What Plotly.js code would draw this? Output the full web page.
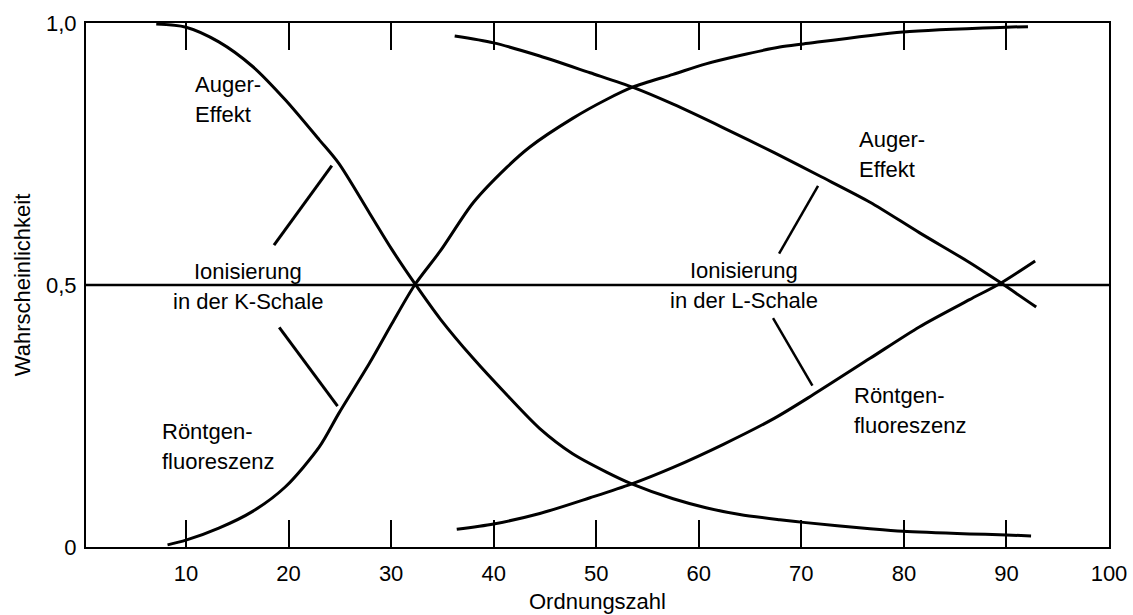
<!DOCTYPE html>
<html>
<head>
<meta charset="utf-8">
<script src="https://cdn.plot.ly/plotly-3.0.1.min.js"></script>
<style>
  html, body { margin: 0; padding: 0; background: #ffffff; }
  #chart { width: 1133px; height: 615px; }
</style>
</head>
<body>
<div id="chart"></div>
<script>
// Ordnungszahl (Z) und Wahrscheinlichkeit für Auger-Effekt bzw. Röntgenfluoreszenz

// K-Schale
const kAugerZ = [7.1, 10, 13.2, 16.5, 19.7, 23.0, 24.9, 27.9, 30.1, 32.3, 34.8, 38.0, 41.3, 44.5, 47.7, 51.0, 53.4, 57.5, 60.7, 64.0, 67.9, 70.2, 76.7, 79.9, 86.4, 90, 92.4];
const kAugerP = [0.998, 0.992, 0.964, 0.917, 0.853, 0.777, 0.732, 0.637, 0.567, 0.503, 0.435, 0.360, 0.290, 0.226, 0.178, 0.143, 0.121, 0.092, 0.075, 0.062, 0.052, 0.047, 0.035, 0.030, 0.025, 0.023, 0.021];

const kFluorZ = [8.2, 10, 13.2, 16.5, 19.7, 23.0, 24.9, 27.9, 30.1, 32.3, 34.8, 38.0, 41.3, 43.5, 47.7, 51.0, 53.6, 57.5, 60.7, 64.0, 67.9, 70.2, 79.9, 90, 92.1];
const kFluorP = [0.004, 0.013, 0.036, 0.068, 0.115, 0.191, 0.255, 0.351, 0.427, 0.5, 0.565, 0.657, 0.725, 0.763, 0.818, 0.854, 0.878, 0.902, 0.922, 0.938, 0.954, 0.960, 0.983, 0.992, 0.993];

// L-Schale
const lAugerZ = [36.2, 40, 44.5, 49.4, 53.6, 57.5, 62.4, 67.4, 71.8, 76.7, 81.5, 86.4, 89.3, 92.9];
const lAugerP = [0.975, 0.962, 0.937, 0.905, 0.877, 0.845, 0.800, 0.752, 0.708, 0.658, 0.600, 0.543, 0.506, 0.458];

const lFluorZ = [36.4, 40, 44.5, 49.4, 53.4, 57.5, 62.4, 67.4, 71.1, 76.7, 81.5, 86.4, 89.3, 92.8];
const lFluorP = [0.034, 0.044, 0.064, 0.094, 0.120, 0.152, 0.196, 0.246, 0.290, 0.360, 0.420, 0.472, 0.502, 0.546];

// Achsenbeschriftung
const xTickVals = [10, 20, 30, 40, 50, 60, 70, 80, 90, 100];
const xTickText = ['10', '20', '30', '40', '50', '60', '70', '80', '90', '100'];
const yTickVals = [0, 0.5, 1];
const yTickText = ['0', '0,5', '1,0'];

const FONT = '"Liberation Sans", Arial, sans-serif';
const FS = 22;

function curve(x, y) {
  return {
    x: x, y: y, type: 'scatter', mode: 'lines',
    line: { color: '#000000', width: 3, shape: 'spline', smoothing: 0.8 },
    hoverinfo: 'skip', showlegend: false
  };
}

const traces = [
  curve(kAugerZ, kAugerP),
  curve(kFluorZ, kFluorP),
  curve(lAugerZ, lAugerP),
  curve(lFluorZ, lFluorP)
];

// Hinweisstriche von der Beschriftung zu den Kurven
function leader(x0, y0, x1, y1, w) {
  return { type: 'line', xref: 'x', yref: 'y', x0: x0, y0: y0, x1: x1, y1: y1,
           line: { color: '#000000', width: w } };
}

const shapes = [
  { type: 'line', xref: 'paper', yref: 'y', x0: 0, x1: 1, y0: 0.5, y1: 0.5,
    line: { color: '#000000', width: 2.5 } },
  leader(18.58, 0.576, 24.22, 0.728, 3),
  leader(19.09, 0.419, 24.78, 0.269, 3),
  leader(67.83, 0.560, 71.63, 0.689, 2.5),
  leader(67.24, 0.437, 71.08, 0.308, 2.5)
];

function label(text, x, y, anchor) {
  return { text: text, x: x, y: y, xref: 'x', yref: 'y', showarrow: false,
           xanchor: anchor, yanchor: 'middle',
           font: { family: FONT, size: FS, color: '#000000' } };
}

const annotations = [
  label('Auger-', 10.68, 0.883, 'left'),
  label('Effekt', 10.68, 0.826, 'left'),
  label('Ionisierung', 16.09, 0.526, 'center'),
  label('in der K-Schale', 16.09, 0.469, 'center'),
  label('Röntgen-', 7.47, 0.221, 'left'),
  label('fluoreszenz', 7.47, 0.164, 'left'),
  label('Auger-', 75.39, 0.777, 'left'),
  label('Effekt', 75.39, 0.720, 'left'),
  label('Ionisierung', 64.38, 0.528, 'center'),
  label('in der L-Schale', 64.38, 0.471, 'center'),
  label('Röntgen-', 74.91, 0.290, 'left'),
  label('fluoreszenz', 74.91, 0.231, 'left')
];

const layout = {
  width: 1133, height: 615,
  margin: { l: 86, r: 24, t: 23, b: 68 },
  paper_bgcolor: '#ffffff', plot_bgcolor: '#ffffff',
  font: { family: FONT, size: FS, color: '#000000' },
  showlegend: false,
  xaxis: {
    range: [0.25, 100], tickmode: 'array', tickvals: xTickVals, ticktext: xTickText,
    ticks: 'inside', ticklen: 27, tickwidth: 2, tickcolor: '#000000',
    showline: true, linecolor: '#000000', linewidth: 2, mirror: 'allticks',
    showgrid: false, zeroline: false, ticklabelstandoff: 6,
    title: { text: 'Ordnungszahl', font: { family: FONT, size: FS }, standoff: 8 }
  },
  yaxis: {
    range: [0, 1], tickmode: 'array', tickvals: yTickVals, ticktext: yTickText,
    ticks: '', showline: true, linecolor: '#000000', linewidth: 2, mirror: true,
    showgrid: false, zeroline: false, ticklabelstandoff: 3,
    title: { text: 'Wahrscheinlichkeit', font: { family: FONT, size: FS }, standoff: 9 }
  },
  shapes: shapes,
  annotations: annotations
};

Plotly.newPlot('chart', traces, layout, { staticPlot: true, displayModeBar: false });
</script>
</body>
</html>
